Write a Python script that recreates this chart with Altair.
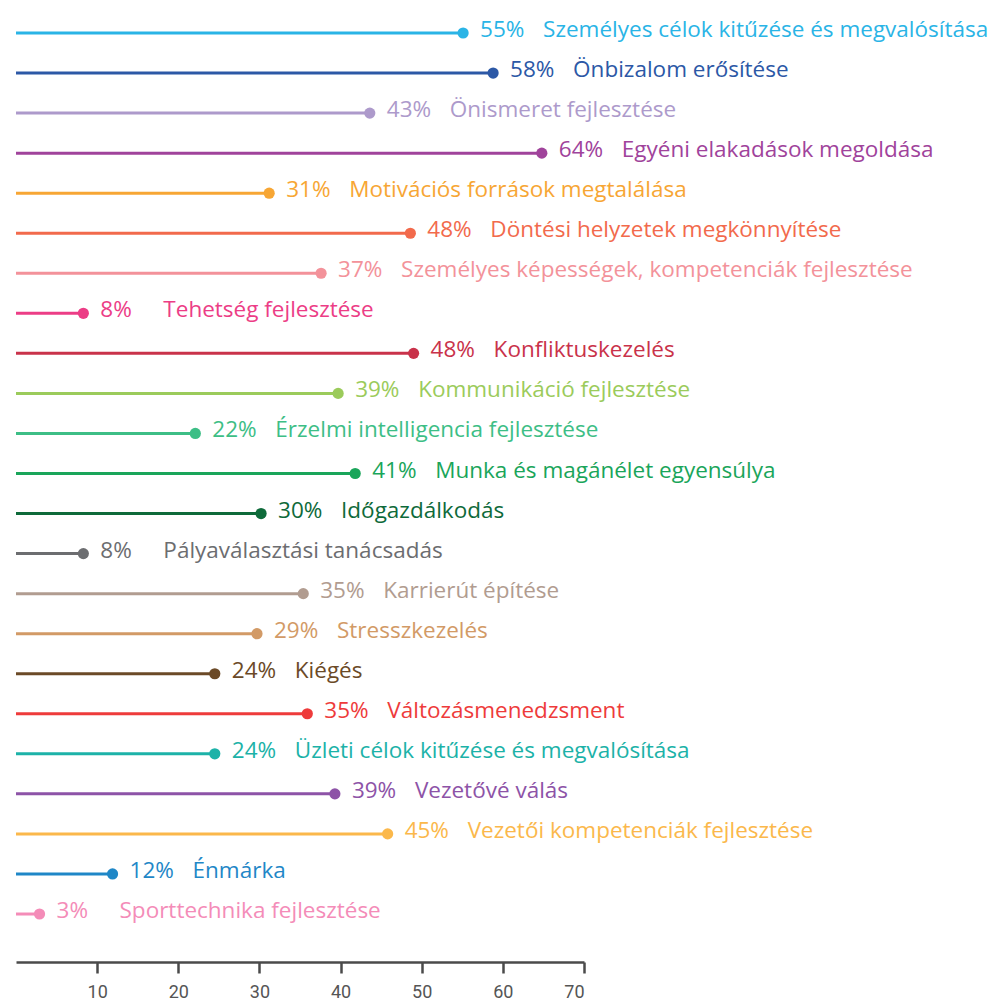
import altair as alt
import pandas as pd

categories = [
    "Személyes célok kitűzése és megvalósítása",
    "Önbizalom erősítése",
    "Önismeret fejlesztése",
    "Egyéni elakadások megoldása",
    "Motivációs források megtalálása",
    "Döntési helyzetek megkönnyítése",
    "Személyes képességek, kompetenciák fejlesztése",
    "Tehetség fejlesztése",
    "Konfliktuskezelés",
    "Kommunikáció fejlesztése",
    "Érzelmi intelligencia fejlesztése",
    "Munka és magánélet egyensúlya",
    "Időgazdálkodás",
    "Pályaválasztási tanácsadás",
    "Karrierút építése",
    "Stresszkezelés",
    "Kiégés",
    "Változásmenedzsment",
    "Üzleti célok kitűzése és megvalósítása",
    "Vezetővé válás",
    "Vezetői kompetenciák fejlesztése",
    "Énmárka",
    "Sporttechnika fejlesztése",
]

# dot positions
values = [55.1, 58.8, 43.6, 64.8, 31.2, 48.6, 37.6, 8.3, 49.0, 39.7, 22.1, 41.8,
          30.2, 8.3, 35.4, 29.7, 24.5, 35.9, 24.5, 39.3, 45.8, 11.9, 2.9]

# printed percentages
pct_labels = [55, 58, 43, 64, 31, 48, 37, 8, 48, 39, 22, 41,
              30, 8, 35, 29, 24, 35, 24, 39, 45, 12, 3]

colors = [
    "#2ab4e6", "#2c58a6", "#ad9acb", "#a0439b", "#f7a634", "#f26a4c",
    "#f3929a", "#ec3d86", "#c9324a", "#9bcb5b", "#3dbe86", "#1aa55a",
    "#0e6a3a", "#6c6d70", "#b19c90", "#d29a66", "#6b4a27", "#ee3b3b",
    "#1cb2a8", "#8d53a7", "#fbb84b", "#1f87c7", "#f48cb8",
]

tick_values = [10, 20, 30, 40, 50, 60, 70]

df = pd.DataFrame({
    "cat": categories,
    "value": values,
    "pct": [f"{p}%" for p in pct_labels],
    "zero": [0] * len(categories),
})

FONT = "Open Sans"
FS = 22.5

xscale = alt.Scale(domain=[0, 70], range=[0, 568], nice=False, zero=True)
xaxis = alt.Axis(values=tick_values, title=None, grid=False, offset=23)
yenc = alt.Y("cat:N", sort=categories,
             scale=alt.Scale(type="point", padding=0.624), axis=None)
cenc = alt.Color("cat:N", scale=alt.Scale(domain=categories, range=colors), legend=None)

base = alt.Chart(df).encode(
    x=alt.X("value:Q", scale=xscale, axis=xaxis),
    y=yenc, color=cenc,
)

rules = base.mark_rule(strokeWidth=3).encode(
    x=alt.X("zero:Q", scale=xscale, axis=xaxis),
    x2="value:Q",
)

dots = base.mark_circle(size=125, opacity=1)

pct = base.mark_text(align="left", baseline="alphabetic", dx=17, dy=4,
                     font=FONT, fontSize=FS, fontWeight=500).encode(text="pct:N")

cat = base.mark_text(align="left", baseline="alphabetic", dx=80, dy=4,
                     font=FONT, fontSize=FS, fontWeight=500).encode(text="cat:N")

chart = alt.layer(rules, dots, pct, cat).properties(
    width=983, height=931,
    autosize=alt.AutoSizeParams(type="none"),
    padding={"left": 8, "top": 0, "right": 0, "bottom": 62},
).configure_view(stroke=None).configure_axisX(
    domainColor="#4a4a4a", domainWidth=2.5,
    tickColor="#4a4a4a", tickWidth=2.5, tickSize=11,
    labelFont="Roboto", labelFontSize=18, labelColor="#555555",
    labelPadding=10,
)

chart.save("out.html", embed_options={"renderer": "svg", "actions": False})
